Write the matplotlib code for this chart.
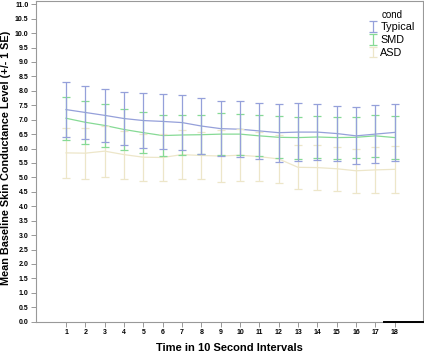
import numpy as np
import matplotlib
matplotlib.use("Agg")
import matplotlib.pyplot as plt

plt.rcParams['font.family'] = ['Liberation Sans', 'DejaVu Sans']

intervals = list(range(1, 19))

typical_mean = [7.35, 7.25, 7.15, 7.04, 6.97, 6.94, 6.90, 6.78, 6.69,
                6.67, 6.61, 6.55, 6.57, 6.57, 6.52, 6.44, 6.50, 6.56]
typical_se = [0.94, 0.93, 0.93, 0.93, 0.95, 0.95, 0.96, 0.96, 0.96,
              0.98, 0.98, 1.00, 1.00, 0.98, 0.96, 0.99, 1.00, 1.00]

smd_mean = [7.05, 6.91, 6.80, 6.66, 6.55, 6.45, 6.47, 6.48, 6.50,
            6.50, 6.44, 6.39, 6.38, 6.40, 6.38, 6.39, 6.44, 6.38]
smd_se = [0.75, 0.75, 0.75, 0.72, 0.72, 0.70, 0.70, 0.68, 0.72,
          0.71, 0.71, 0.73, 0.73, 0.74, 0.73, 0.72, 0.73, 0.75]

asd_mean = [5.85, 5.84, 5.91, 5.79, 5.70, 5.69, 5.79, 5.76, 5.74,
            5.77, 5.72, 5.64, 5.35, 5.34, 5.30, 5.23, 5.26, 5.28]
asd_se = [0.86, 0.88, 0.88, 0.83, 0.82, 0.81, 0.86, 0.81, 0.90,
          0.89, 0.84, 0.82, 0.76, 0.77, 0.76, 0.76, 0.81, 0.81]

groups = ["Typical", "SMD", "ASD"]
colors = ["#95a0da", "#86da95", "#ede6c9"]
means = [typical_mean, smd_mean, asd_mean]
ses = [typical_se, smd_se, asd_se]

fig = plt.figure(figsize=(4.24, 3.53), dpi=100)
ax = fig.add_axes([36 / 424, 1 - 321.7 / 353, (423.5 - 36) / 424, 321.2 / 353])

handles = []
# draw back to front so Typical ends up on top
for name, col, m, s in reversed(list(zip(groups, colors, means, ses))):
    ax.plot(intervals, m, color=col, lw=0.9, zorder=2)
    eb = ax.errorbar(intervals, m, yerr=s, fmt='none', ecolor=col,
                     elinewidth=0.9, capsize=3, capthick=0.9, zorder=3)
    handles.append((eb, name))
handles = handles[::-1]

ax.set_xlim(-0.552, 19.49)
ax.set_ylim(0, 11.13)
ax.set_xticks(intervals)
ax.set_xticklabels([str(i) for i in intervals], fontsize=5, fontweight='bold')
ax.set_yticks(np.arange(0, 11.01, 0.5))
ax.set_yticklabels([f"{v:.1f}" for v in np.arange(0, 11.01, 0.5)],
                   fontsize=5, fontweight='bold')
ax.tick_params(axis='both', length=3.5, width=0.6, color='#888888', pad=2)

for sp in ax.spines.values():
    sp.set_color('#999999')
    sp.set_linewidth(0.8)
# dark stub on the right end of the x axis
ax.plot([0.897, 1.0], [0, 0], transform=ax.transAxes, color='black',
        lw=1.4, clip_on=False, zorder=5)

ax.set_xlabel("Time in 10 Second Intervals", fontsize=8.0, fontweight='bold',
              labelpad=5)
ax.set_ylabel("Mean Baseline Skin Conductance Level (+/- 1 SE)", fontsize=7.8,
              fontweight='bold')
ax.yaxis.set_label_coords(-0.064, 0.51)

leg = ax.legend([h for h, _ in handles], [n for _, n in handles], title="cond",
                loc='upper right', bbox_to_anchor=(0.997, 0.995), frameon=False,
                fontsize=7.8, title_fontsize=7, handlelength=0.7,
                handletextpad=0.3, labelspacing=0.25, borderaxespad=0.3)

fig.savefig("out.png", dpi=100)
